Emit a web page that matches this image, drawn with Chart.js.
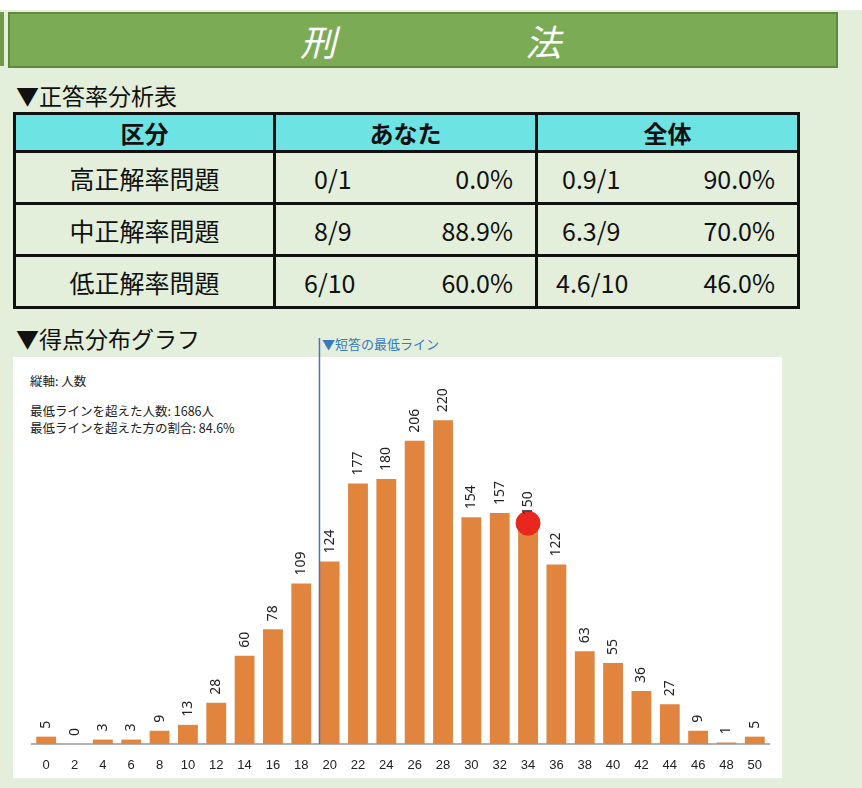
<!DOCTYPE html>
<html><head><meta charset="utf-8">
<script src="https://cdn.jsdelivr.net/npm/chart.js@4"></script>
<style>
body{margin:0;width:862px;height:788px;background:#e3efda;position:relative;overflow:hidden;font-family:"Noto Sans CJK JP","Noto Sans",sans-serif;}
.topw{position:absolute;left:0;top:0;width:862px;height:10px;background:#fff}
.lbar{position:absolute;left:0;top:12px;width:4px;height:54px;background:#6f9a4e}
.banner{position:absolute;left:8px;top:12px;width:826px;height:52px;background:#7cab56;border:2px solid #5f8a3e}
.banner span{position:absolute;top:4px;color:#fff;font-size:36px;font-style:italic;line-height:44px}
.h{position:absolute;left:16px;font-size:23px;color:#111;line-height:28px}
table{position:absolute;left:13px;top:112px;border-collapse:collapse;}
td{border:3px solid #111;font-size:25px;height:49px;padding:0;color:#111}
tr.hd td{background:#6ee3e3;height:35px;text-align:center;font-weight:bold;font-size:24px}
.box{position:absolute;left:13px;top:357px;width:769px;height:421px;background:#fff}
.note{position:absolute;font-size:12.5px;color:#222;line-height:17px}
.ml{position:absolute;left:322px;top:334px;font-size:13px;color:#3a78c0}
canvas{position:absolute;left:13px;top:330px}
.sp{display:flex;justify-content:space-between;padding:0 22px 0 38px}
</style></head><body>
<div class="topw"></div><div class="lbar"></div>
<div class="banner"><span style="left:290px">刑</span><span style="left:515px">法</span></div>
<div class="h" style="top:81px">▼正答率分析表</div>
<table>
<tr class="hd"><td style="width:257px">区分</td><td style="width:259px">あなた</td><td style="width:259px">全体</td></tr>
<tr><td style="text-align:center">高正解率問題</td><td><div class="sp"><span>0/1</span><span>0.0%</span></div></td><td><div class="sp" style="padding-left:24px"><span>0.9/1</span><span>90.0%</span></div></td></tr>
<tr><td style="text-align:center">中正解率問題</td><td><div class="sp"><span>8/9</span><span>88.9%</span></div></td><td><div class="sp" style="padding-left:24px"><span>6.3/9</span><span>70.0%</span></div></td></tr>
<tr><td style="text-align:center">低正解率問題</td><td><div class="sp" style="padding-left:28px"><span>6/10</span><span>60.0%</span></div></td><td><div class="sp" style="padding-left:18px"><span>4.6/10</span><span>46.0%</span></div></td></tr>
</table>
<div class="h" style="top:324px">▼得点分布グラフ</div>
<div class="ml">▼短答の最低ライン</div>
<div class="box"></div>
<div class="note" style="left:30px;top:372px">縦軸: 人数</div>
<div class="note" style="left:30px;top:402px">最低ラインを超えた人数: 1686人<br>最低ラインを超えた方の割合: 84.6%</div>
<canvas id="c" width="769" height="448"></canvas>
<script>
const scores=["0","2","4","6","8","10","12","14","16","18","20","22","24","26","28","30","32","34","36","38","40","42","44","46","48","50"];
const counts=[5,0,3,3,9,13,28,60,78,109,124,177,180,206,220,154,157,150,122,63,55,36,27,9,1,5];
const myScore="34";
const myCount=150;
const lineAfterIndex=9;

function drawDeco(ch){
 const c=ch.ctx,x=ch.scales.x,y=ch.scales.y,m=ch.getDatasetMeta(1);
 c.save();c.fillStyle='#222';c.font='14px "Noto Sans","DejaVu Sans",sans-serif';c.textAlign='left';c.textBaseline='middle';
 m.data.forEach((b,i)=>{c.save();c.translate(b.x,b.y-8);c.rotate(-Math.PI/2);c.fillText(String(counts[i]),0,0);c.restore();});
 const lx=(x.getPixelForValue(lineAfterIndex)+x.getPixelForValue(lineAfterIndex+1))/2+4;
 c.strokeStyle='#4a72c4';c.lineWidth=1.5;c.beginPath();c.moveTo(lx,8);c.lineTo(lx,y.getPixelForValue(0));c.stroke();
 c.restore();
}
new Chart(document.getElementById('c'),{
 data:{labels:scores,datasets:[
  {type:'scatter',data:[{x:myScore,y:myCount}],backgroundColor:'#e8281e',borderColor:'#e8281e',pointRadius:12,order:0},
  {type:'bar',data:counts,backgroundColor:'#e0843e',categoryPercentage:1,barPercentage:0.7,order:1}
 ]},
 options:{responsive:false,animation:false,events:[],
  layout:{padding:{left:19,right:0,top:46,bottom:0}},
  plugins:{legend:{display:false},tooltip:{enabled:false}},
  scales:{
   x:{type:'category',grid:{display:false},border:{color:'#b0b0b0',width:2},
      ticks:{color:'#222',font:{size:13},maxRotation:0,autoSkip:false,padding:6},
      afterFit(s){s.height=34;}},
   y:{display:false,min:0,max:250}
  }},
 plugins:[{id:'dl',afterDatasetsDraw:drawDeco}]
});
</script>
</body></html>
